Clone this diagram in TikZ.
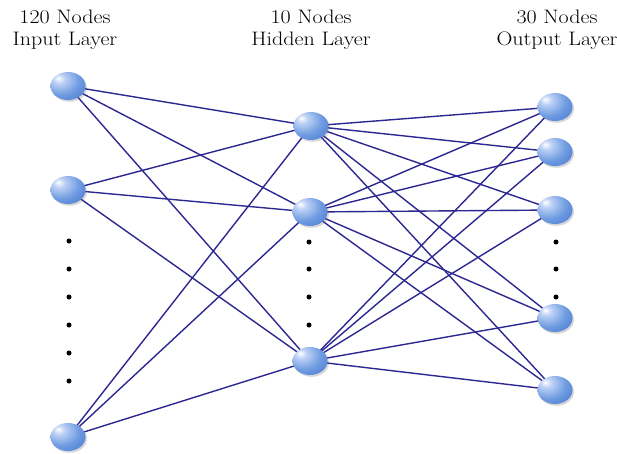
\documentclass[tikz,border=0pt]{standalone}
\usepackage{fontspec}
\usetikzlibrary{shapes.geometric,backgrounds,shadows}
\definecolor{edgecol}{RGB}{45,40,145}
\definecolor{sA}{RGB}{190,210,245}
\definecolor{sB}{RGB}{110,155,225}
\definecolor{sC}{RGB}{70,115,205}
\definecolor{sD}{RGB}{45,85,180}
\pgfdeclareradialshading{sphere}{\pgfpoint{-14bp}{14bp}}{%
  color(0bp)=(white); color(8bp)=(sA); color(26bp)=(sB); color(48bp)=(sC); color(66bp)=(sD); color(100bp)=(sD)}
\newcommand{\hdtext}[2]{\scalebox{1.13}[1]{\begin{tabular}{@{}c@{}}#1\\[-1pt]#2\end{tabular}}}
\tikzset{
  neuron/.style={ellipse, minimum width=35pt, minimum height=28pt, inner sep=0pt,
    shading=sphere, draw=none,
    drop shadow={opacity=0.25, shadow xshift=1.5pt, shadow yshift=-1.8pt, fill=black!60}},
  link/.style={draw=edgecol, line width=1.4pt},
  vdot/.style={circle, fill=black, minimum size=5pt, inner sep=0pt},
  head/.style={align=center, font=\fontsize{19.5}{23}\selectfont, inner sep=0pt}
}
\begin{document}
\begin{tikzpicture}[x=1pt,y=-1pt]
\useasboundingbox (0,0) rectangle (617,454);
% headers
\node[head] (hin) at (65,30) {\hdtext{120 Nodes}{Input Layer}};
\node[head] (hhid) at (311,30) {\hdtext{10 Nodes}{Hidden Layer}};
\node[head] (hout) at (557,30) {\hdtext{30 Nodes}{Output Layer}};
% nodes
\node[neuron] (I1) at (68,86) {};
\node[neuron] (I2) at (68,190) {};
\node[neuron] (I3) at (68,437) {};
\node[neuron] (H1) at (311,126) {};
\node[neuron] (H2) at (310,212) {};
\node[neuron] (H3) at (310,361) {};
\node[neuron] (O1) at (555,107) {};
\node[neuron] (O2) at (555,152) {};
\node[neuron] (O3) at (555,210) {};
\node[neuron] (O4) at (555,318) {};
\node[neuron] (O5) at (555,390) {};
% dots
\foreach \y [count=\k] in {241,269,297,325,353,381} \node[vdot] (di\k) at (69,\y) {};
\foreach \y [count=\k] in {242,269,297,325} \node[vdot] (dh\k) at (309,\y) {};
\foreach \y [count=\k] in {242,269,297} \node[vdot] (do\k) at (556,\y) {};
\begin{pgfonlayer}{background}
\fill[white] (0,0) rectangle (617,454);
\foreach \a in {I1,I2,I3}
  \foreach \b in {H1,H2,H3}
    \draw[link] (\a.center) -- (\b.center);
\foreach \a in {H1,H2,H3}
  \foreach \b in {O1,O2,O3,O4,O5}
    \draw[link] (\a.center) -- (\b.center);
\end{pgfonlayer}
\end{tikzpicture}
\end{document}
